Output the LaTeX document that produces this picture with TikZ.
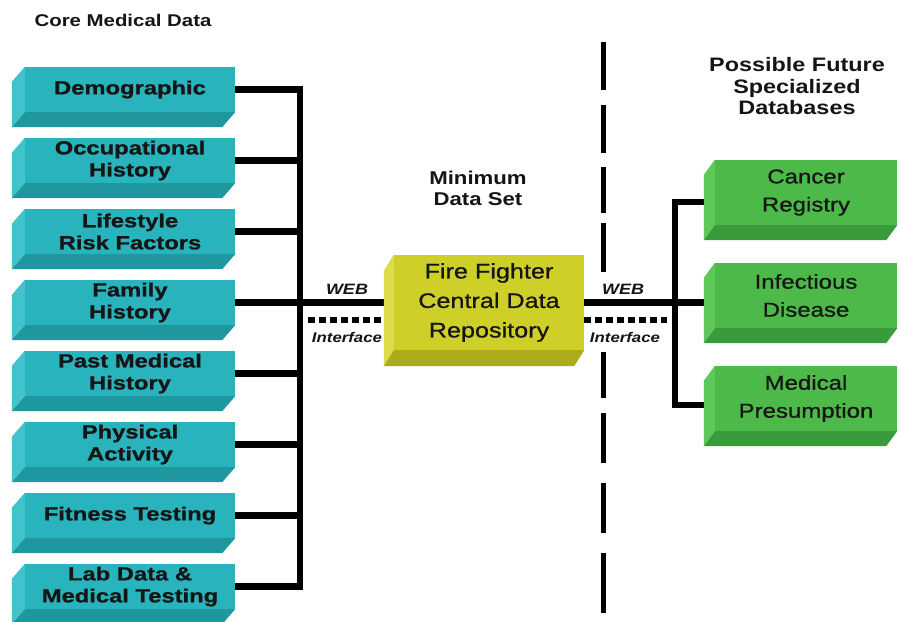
\documentclass[tikz,border=0pt]{standalone}
\usepackage{fontspec}
\setmainfont{Liberation Sans}[FakeStretch=1.2]
\newfontfamily\heavyfont{Liberation Sans}[FakeStretch=1.25, BoldFeatures={FakeBold=1}]
\newfontfamily\medfont{Liberation Sans}[FakeStretch=1.2, FakeBold=0.8]
\usetikzlibrary{calc}
\pgfdeclarelayer{bg}
\pgfsetlayers{bg,main}
\definecolor{tealF}{HTML}{29B3BD}
\definecolor{tealL}{HTML}{40C3CB}
\definecolor{tealB}{HTML}{1E979F}
\definecolor{yelF}{HTML}{CFCF2A}
\definecolor{yelL}{HTML}{DCDC48}
\definecolor{yelB}{HTML}{ABAB1C}
\definecolor{grnF}{HTML}{4DB949}
\definecolor{grnL}{HTML}{5FC85B}
\definecolor{grnB}{HTML}{3A9B3C}
\definecolor{ink}{HTML}{151515}
\newcommand{\solidbox}[9]{%
  \node[#8, fill=#7F, minimum width=#3, minimum height=#4, inner sep=0pt] (#1) at #2 {#9};
  \fill[#7L] (#1.north west) -- ++(#5,#6) -- ($(#1.south west)+(#5,#6)$) -- (#1.south west) -- cycle;
  \fill[#7B] (#1.south west) -- ($(#1.south west)+(#5,#6)$) -- ($(#1.south east)+(#5,#6)$) -- (#1.south east) -- cycle;
}
\tikzset{
  tealtxt/.style={text=ink, font=\heavyfont\bfseries\fontsize{19}{22}\selectfont, align=center},
  yeltxt/.style={text=ink, font=\medfont\fontsize{21}{29.5}\selectfont, align=center},
  grntxt/.style={text=ink, font=\medfont\fontsize{20}{28}\selectfont, align=center},
  heading/.style={text=ink, font=\bfseries\fontsize{17}{21.5}\selectfont, align=center, inner sep=0pt},
  weblab/.style={text=ink, font=\bfseries\itshape\fontsize{15}{18}\selectfont, inner sep=0pt},
  iflab/.style={text=ink, font=\bfseries\itshape\fontsize{14}{17}\selectfont, inner sep=0pt},
  conn/.style={line width=6.5pt, draw=black, line join=miter},
  dashconn/.style={line width=6pt, draw=black, dash pattern=on 7pt off 4pt},
  divider/.style={line width=5pt, draw=black}
}
\begin{document}
\begin{tikzpicture}[x=1pt,y=-1pt]
\useasboundingbox (0,0) rectangle (899,621);
% headings
\node[heading] (core) at (123,20) {Core Medical Data};
\node[heading, font=\bfseries\fontsize{18.5}{21}\selectfont] (mds) at (478,188.5) {Minimum\\Data Set};
\node[heading, font=\bfseries\fontsize{19.5}{21.5}\selectfont] (pfs) at (797,86.5) {Possible Future\\Specialized\\Databases};
% teal boxes
\solidbox{b1}{(130,89.5)}{210pt}{45pt}{-13}{15}{teal}{tealtxt}{Demographic}
\solidbox{b2}{(130,160.5)}{210pt}{45pt}{-13}{15}{teal}{tealtxt}{Occupational\\History}
\solidbox{b3}{(130,231.5)}{210pt}{45pt}{-13}{15}{teal}{tealtxt}{Lifestyle\\Risk Factors}
\solidbox{b4}{(130,302.5)}{210pt}{45pt}{-13}{15}{teal}{tealtxt}{Family\\History}
\solidbox{b5}{(130,373.5)}{210pt}{45pt}{-13}{15}{teal}{tealtxt}{Past Medical\\History}
\solidbox{b6}{(130,444.5)}{210pt}{45pt}{-13}{15}{teal}{tealtxt}{Physical\\Activity}
\solidbox{b7}{(130,515.5)}{210pt}{45pt}{-13}{15}{teal}{tealtxt}{Fitness Testing}
\solidbox{b8}{(130,586.5)}{210pt}{45pt}{-13}{15}{teal}{tealtxt}{Lab Data \&\\Medical Testing}
% central repository
\solidbox{ff}{(489,302.5)}{190pt}{95pt}{-10}{16}{yel}{yeltxt}{Fire Fighter\\Central Data\\Repository}
% green boxes
\solidbox{g1}{(806,192.5)}{182pt}{65pt}{-11}{15}{grn}{grntxt}{Cancer\\Registry}
\solidbox{g2}{(806,295.5)}{182pt}{65pt}{-11}{15}{grn}{grntxt}{Infectious\\Disease}
\solidbox{g3}{(806,398.5)}{182pt}{65pt}{-11}{15}{grn}{grntxt}{Medical\\Presumption}
% labels
\node[weblab] (webL) at (347,289) {WEB};
\node[iflab] (ifL) at (347,337) {Interface};
\node[weblab] (webR) at (623,289) {WEB};
\node[iflab] (ifR) at (625,337) {Interface};
% coordinates
\coordinate (busL) at (300,90);
\coordinate (dl) at (308,320);
\coordinate (dr) at (667,320);
\coordinate (rb1) at (675,202);
\coordinate (rb3) at (675,405);
\begin{pgfonlayer}{bg}
  \fill[white] (0,0) rectangle (899,621);
  \draw[conn] (b1.east) -- (b1.east -| busL) -- (b8.east -| busL) -- (b8.east);
  \draw[conn] (b2.east) -- (b2.east -| busL);
  \draw[conn] (b3.east) -- (b3.east -| busL);
  \draw[conn] (b4.east) -- (ff.west);
  \draw[conn] (b5.east) -- (b5.east -| busL);
  \draw[conn] (b6.east) -- (b6.east -| busL);
  \draw[conn] (b7.east) -- (b7.east -| busL);
  \draw[dashconn] (dl) -- (dl -| ff.west);
  \draw[conn] (ff.east) -- (ff.east -| g2.west);
  \draw[dashconn] (dr -| ff.east) -- (dr);
  \draw[conn] (g1.west |- rb1) -- (rb1) -- (rb3) -- (g3.west |- rb3);
\end{pgfonlayer}
% divider
\foreach \a/\b in {42/90,105/153,167/213,223/272,352/398,413/463,483/533,553/613}
  \draw[divider] (603,\a) -- (603,\b);
\end{tikzpicture}
\end{document}
